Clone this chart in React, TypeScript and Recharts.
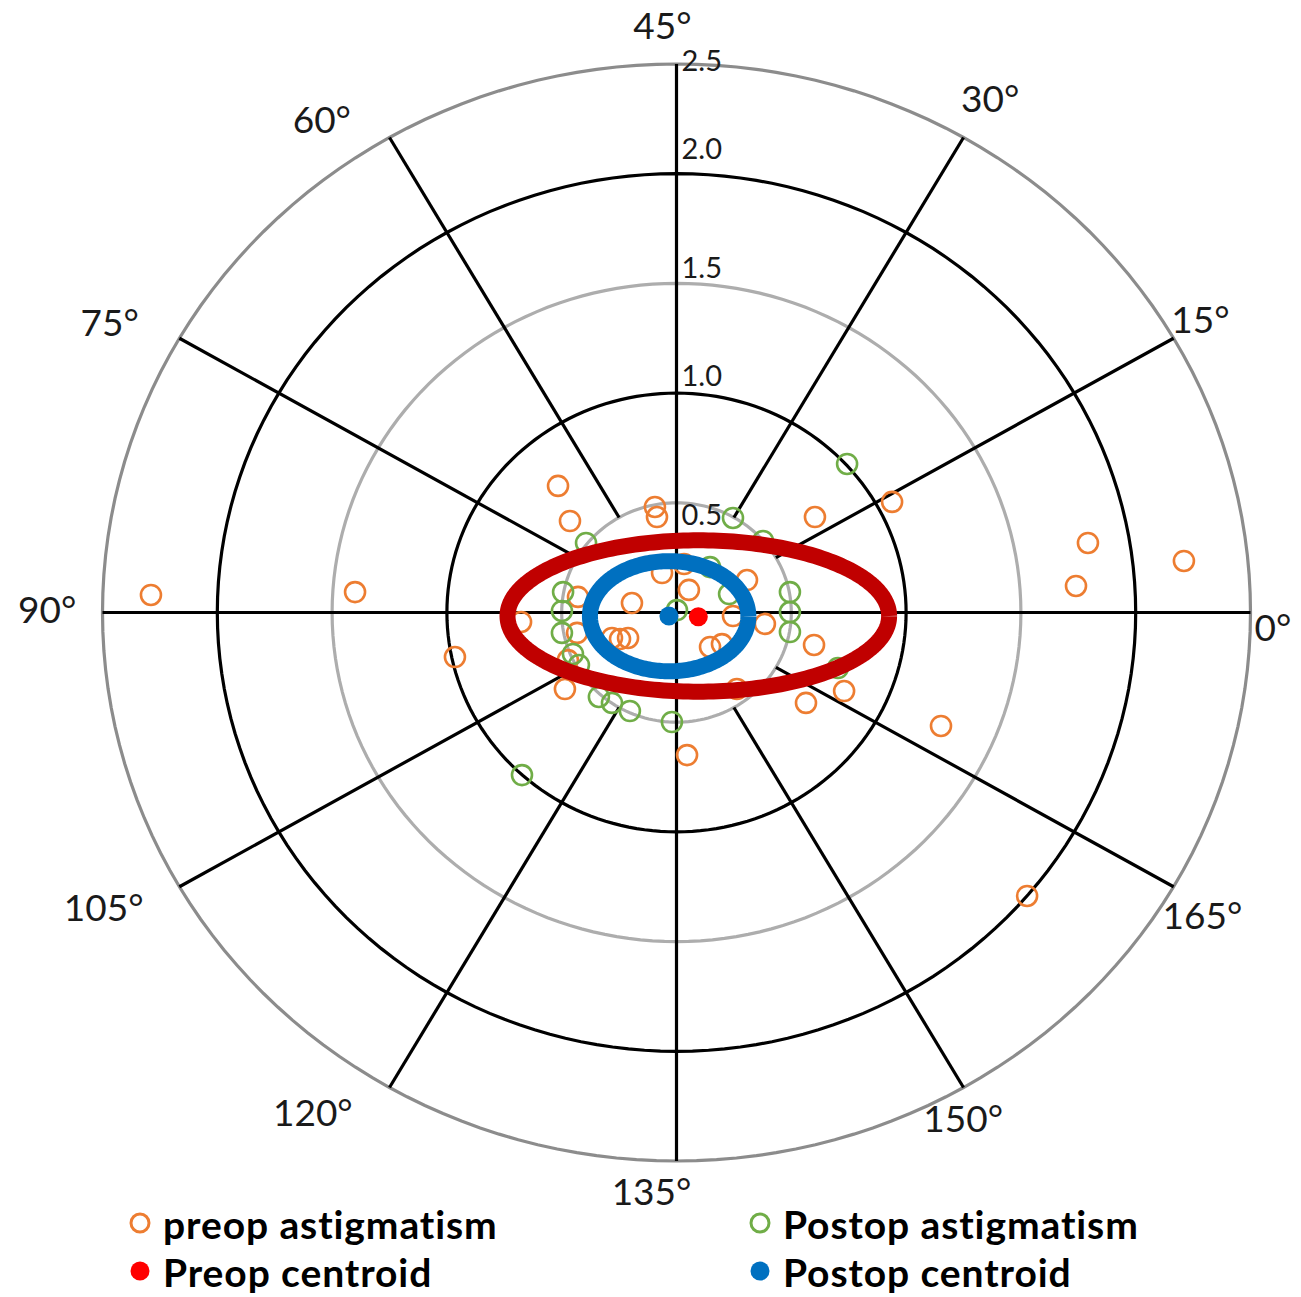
import React from 'react';
import { ScatterChart, Scatter, XAxis, YAxis } from 'recharts';

// ---------- layout (pixels) ----------
const W = 1301;
const H = 1297;
const CX = 676.5; // pixel position of the plot centre
const CY = 612.5;
const SX = 229.6; // px per dioptre, horizontal
const SY = 219.4; // px per dioptre, vertical
const X_DOMAIN: [number, number] = [-CX / SX, (W - CX) / SX];
const Y_DOMAIN: [number, number] = [-(H - CY) / SY, CY / SY];

// ---------- data (double-angle vectors, dioptres) ----------
const preopX = [-2.289, -1.4, -0.965, -0.516, -0.464, -0.094, -0.085, 0.603, 0.939, 1.792, 1.74, 2.21, 1.152, 1.527, 0.046, 0.564, 0.73, 0.599, 0.385, 0.263, -0.486, -0.473, -0.677, -0.433, -0.281, -0.246, -0.211, -0.194, -0.063, 0.033, 0.054, 0.307, 0.246, 0.146, 0.198, -0.429];
const preopY = [0.08, 0.093, -0.203, 0.577, 0.417, 0.481, 0.435, 0.435, 0.504, 0.317, 0.121, 0.235, -0.517, -1.292, -0.65, -0.412, -0.358, -0.148, -0.052, -0.349, -0.349, -0.217, -0.043, -0.093, -0.116, -0.121, -0.116, 0.043, 0.18, 0.221, 0.103, 0.148, -0.016, -0.157, -0.144, 0.071];
const postopX = [0.743, 0.246, 0.377, -0.394, -0.494, -0.499, -0.499, -0.451, -0.425, -0.338, -0.281, -0.203, -0.02, -0.673, 0.002, 0.146, 0.229, 0.494, 0.494, 0.494, 0.703];
const postopY = [0.677, 0.431, 0.326, 0.317, 0.093, 0.007, -0.093, -0.189, -0.239, -0.385, -0.412, -0.449, -0.499, -0.741, 0.011, 0.207, 0.084, 0.093, 0.002, -0.089, -0.253];
const preopCentroid = [{ x: 0.095, y: -0.019 }];
const postopCentroid = [{ x: -0.033, y: -0.016 }];
// 95% confidence ellipses: centre, semi-axes
const preopEllipse = { cx: 0.095, cy: -0.016, rx: 0.831, ry: 0.345 };
const postopEllipse = { cx: -0.032, cy: -0.017, rx: 0.345, ry: 0.251 };

// ---------- axes ----------
const ringValues = [0.5, 1.0, 1.5, 2.0, 2.5];
const ringLabels = ['0.5', '1.0', '1.5', '2.0', '2.5'];
const ringColors = ['#ADADAD', '#000000', '#ADADAD', '#000000', '#8C8C8C'];
const ringLabelDy = [11, -19, -17, -26, -5];
const axisDegrees = [0, 15, 30, 45, 60, 75, 90, 105, 120, 135, 150, 165];
const axisLabelNudge: [number, number][] = [
  [-19, 14], [-9, 0], [6, -6], [-14, 0], [-47, 15], [-34, 3],
  [-14, -4], [-40, 0], [-56, -10], [-25, -10], [-21, -4], [-7, 8],
];
const LABEL_R = 2.68;

const rad = (deg: number) => (deg * Math.PI) / 180;
const toXY = (xs: number[], ys: number[]) => xs.map((x, i) => ({ x, y: ys[i] }));
const preopPts = toXY(preopX, preopY);
const postopPts = toXY(postopX, postopY);

const ringPoints = (r: number) =>
  Array.from({ length: 181 }, (_, i) => ({ x: r * Math.cos(rad(i * 2)), y: r * Math.sin(rad(i * 2)) }));
const ellipsePoints = (e: { cx: number; cy: number; rx: number; ry: number }) =>
  Array.from({ length: 241 }, (_, i) => ({
    x: e.cx + e.rx * Math.cos(rad(i * 1.5)),
    y: e.cy + e.ry * Math.sin(rad(i * 1.5)),
  }));

const spokeDegrees = axisDegrees.filter((d) => d % 45 !== 0);
const spokes = spokeDegrees.map((d) => {
  const t = rad(2 * d);
  return [
    { x: 0.5 * Math.cos(t), y: 0.5 * Math.sin(t) },
    { x: 2.5 * Math.cos(t), y: 2.5 * Math.sin(t) },
  ];
});
const mainAxes = [
  [{ x: -2.5, y: 0 }, { x: 2.5, y: 0 }],
  [{ x: 0, y: 2.5 }, { x: 0, y: -2.5 }],
];

const ringLabelData = ringValues.map((v, i) => ({ x: 0, y: v, text: ringLabels[i], dy: ringLabelDy[i] }));
const axisLabelData = axisDegrees.map((d, i) => ({
  x: LABEL_R * Math.cos(rad(2 * d)),
  y: LABEL_R * Math.sin(rad(2 * d)),
  text: `${d}°`,
  dx: axisLabelNudge[i][0],
  dy: axisLabelNudge[i][1],
}));

const FONT = 'Lato, "Noto Sans", sans-serif';
const Empty = () => <g />;
const hollow = (color: string) => (p: any) => (
  <circle cx={p.cx} cy={p.cy} r={10} fill="none" stroke={color} strokeWidth={2.6} />
);
const filled = (color: string) => (p: any) => <circle cx={p.cx} cy={p.cy} r={9.5} fill={color} />;

const ORANGE = '#ED7D31';
const GREEN = '#70AD47';
const RED = '#FF0000';
const BLUE = '#0070C0';
const DARKRED = '#C00000';

const legendItems = [
  { label: 'preop astigmatism', color: ORANGE, hollow: true, x: 140, y: 1223 },
  { label: 'Postop astigmatism', color: GREEN, hollow: true, x: 760, y: 1223 },
  { label: 'Preop centroid', color: RED, hollow: false, x: 140, y: 1271 },
  { label: 'Postop centroid', color: BLUE, hollow: false, x: 760, y: 1271 },
];

export default function App() {
  return (
    <div style={{ position: 'relative', width: W, height: H, overflow: 'hidden', background: '#fff' }}>
      <style>{`html,body{margin:0;padding:0;overflow:hidden;background:#fff}`}</style>
      <ScatterChart width={W} height={H} margin={{ top: 0, right: 0, bottom: 0, left: 0 }}>
        <XAxis type="number" dataKey="x" domain={X_DOMAIN} allowDataOverflow hide />
        <YAxis type="number" dataKey="y" domain={Y_DOMAIN} allowDataOverflow hide />
        {ringValues.map((v, i) => (
          <Scatter
            key={`ring-${v}`}
            data={ringPoints(v)}
            fill="none"
            line={{ stroke: ringColors[i], strokeWidth: 3.2 }}
            shape={Empty}
            isAnimationActive={false}
          />
        ))}
        {spokes.map((s, i) => (
          <Scatter key={`spoke-${i}`} data={s} fill="none" line={{ stroke: '#000', strokeWidth: 3.2 }} shape={Empty} isAnimationActive={false} />
        ))}
        {mainAxes.map((s, i) => (
          <Scatter key={`axis-${i}`} data={s} fill="none" line={{ stroke: '#000', strokeWidth: 3.2 }} shape={Empty} isAnimationActive={false} />
        ))}
        <Scatter
          data={ringLabelData}
          isAnimationActive={false}
          shape={(p: any) => (
            <text x={p.cx + 5} y={p.cy + p.payload.dy} fontFamily={FONT} fontSize={29} fill="#1a1a1a" dominantBaseline="central" textAnchor="start">
              {p.payload.text}
            </text>
          )}
        />
        <Scatter
          data={axisLabelData}
          isAnimationActive={false}
          shape={(p: any) => (
            <text x={p.cx + p.payload.dx} y={p.cy + p.payload.dy} fontFamily={FONT} fontSize={37} fill="#1a1a1a" dominantBaseline="central" textAnchor="middle">
              {p.payload.text}
            </text>
          )}
        />
        <Scatter name="preop astigmatism" data={preopPts} shape={hollow(ORANGE)} isAnimationActive={false} />
        <Scatter name="Postop astigmatism" data={postopPts} shape={hollow(GREEN)} isAnimationActive={false} />
        <Scatter data={ellipsePoints(preopEllipse)} fill="none" line={{ stroke: DARKRED, strokeWidth: 16, strokeLinejoin: 'round' }} shape={Empty} isAnimationActive={false} />
        <Scatter data={ellipsePoints(postopEllipse)} fill="none" line={{ stroke: BLUE, strokeWidth: 16, strokeLinejoin: 'round' }} shape={Empty} isAnimationActive={false} />
        <Scatter name="Preop centroid" data={preopCentroid} shape={filled(RED)} isAnimationActive={false} />
        <Scatter name="Postop centroid" data={postopCentroid} shape={filled(BLUE)} isAnimationActive={false} />
      </ScatterChart>
      <svg width={W} height={H} style={{ position: 'absolute', left: 0, top: 0, pointerEvents: 'none' }}>
        {legendItems.map((it) => (
          <g key={it.label}>
            {it.hollow ? (
              <circle cx={it.x} cy={it.y} r={9} fill="none" stroke={it.color} strokeWidth={3} />
            ) : (
              <circle cx={it.x} cy={it.y} r={9.5} fill={it.color} />
            )}
            <text x={it.x + 23} y={it.y + 1} fontFamily={FONT} fontWeight={700} fontSize={39} letterSpacing={0.9} fill="#000" dominantBaseline="central">
              {it.label}
            </text>
          </g>
        ))}
      </svg>
    </div>
  );
}
